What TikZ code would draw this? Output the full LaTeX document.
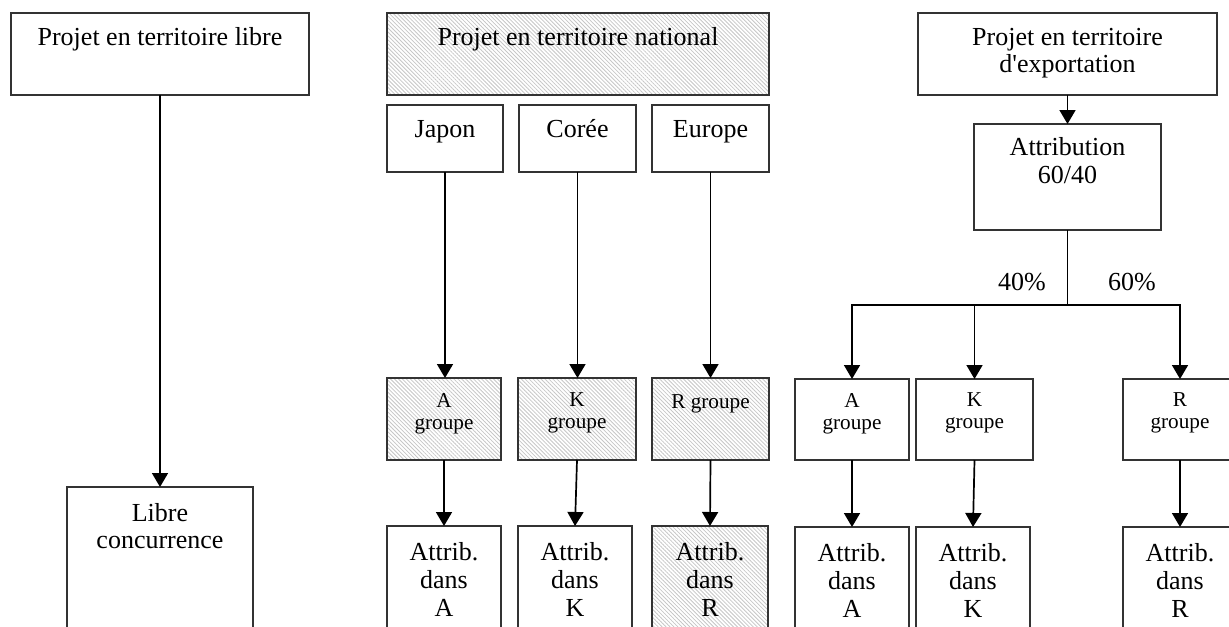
\documentclass[tikz,border=0pt]{standalone}
\usepackage{fontspec}
\setmainfont{Liberation Serif}
\usetikzlibrary{arrows.meta,patterns.meta}
\tikzset{
  bx/.style={draw=black!80, line width=1pt, inner sep=0pt, outer sep=0pt, anchor=north west},
  hatch/.style={pattern={Lines[angle=-45,distance=1.4pt,line width=0.4pt]}, pattern color=black!22},
  tx/.style={anchor=north, inner sep=0pt, align=center, font=\fontsize{13}{13.5}\selectfont, execute at begin node=\strut},
  txb/.style={anchor=north, inner sep=0pt, align=center, font=\fontsize{13}{14}\selectfont, execute at begin node=\strut},
  txs/.style={anchor=north, inner sep=0pt, align=center, font=\fontsize{10.6}{11}\selectfont, execute at begin node=\strut},
  arr/.style={draw=black, line width=0.85pt, -{Triangle[width=8pt,length=7pt]}},
  ln/.style={draw=black, line width=0.85pt}
}
\begin{document}
\begin{tikzpicture}[x=0.5pt,y=-0.5pt]
\clip (0,0) rectangle (1229,626);
\fill[white] (0,0) rectangle (1229,626);
% top row
\node[bx, minimum width=149pt, minimum height=41pt] (b1) at (11,13) {};
\node[bx, hatch, minimum width=191pt, minimum height=41pt] (bnat) at (387,13) {};
\node[bx, minimum width=149.5pt, minimum height=41pt] (bexp) at (918,13) {};
\node[tx] (t1) at (160,26.1) {Projet en territoire libre};
\node[tx] (tnat) at (578,26.1) {Projet en territoire national};
\node[tx] (texp) at (1067.5,28.1) {Projet en territoire\\d\textquotesingle exportation};
% countries
\node[bx, minimum width=58pt, minimum height=33.5pt] (bjap) at (387,105) {};
\node[bx, minimum width=58.5pt, minimum height=33.5pt] (bcor) at (519,105) {};
\node[bx, minimum width=58.5pt, minimum height=33.5pt] (beur) at (652,105) {};
\node[tx] (tjap) at (445,117.8) {Japon};
\node[tx] (tcor) at (577.5,117.8) {Corée};
\node[tx] (teur) at (710.5,117.8) {Europe};
% attribution
\node[bx, minimum width=93.5pt, minimum height=53pt] (batt) at (974,124) {};
\node[txb] (tatt) at (1067.5,137.4) {Attribution\\60/40};
% libre concurrence
\node[bx, minimum width=93pt, minimum height=80pt] (blc) at (67,487) {};
\node[tx] (tlc) at (160,503.1) {Libre\\concurrence};
% middle groups
\node[bx, hatch, minimum width=57pt, minimum height=41pt] (gA) at (387,378) {};
\node[bx, hatch, minimum width=59pt, minimum height=41pt] (gK) at (518,378) {};
\node[bx, hatch, minimum width=58.5pt, minimum height=41pt] (gR) at (652,378) {};
\node[txs] (tgA) at (444,392.6) {A\\groupe};
\node[txs] (tgK) at (577,392.6) {K\\groupe};
\node[txs] (tgR) at (710.5,392.6) {R groupe};
% middle attrib
\node[bx, minimum width=57pt, minimum height=60pt] (aA) at (387,526) {};
\node[bx, minimum width=57pt, minimum height=60pt] (aK) at (518,526) {};
\node[bx, hatch, minimum width=58pt, minimum height=60pt] (aR) at (652,526) {};
\node[txb] (taA) at (444,542.4) {Attrib.\\dans\\A};
\node[txb] (taK) at (575,542.4) {Attrib.\\dans\\K};
\node[txb] (taR) at (710,542.4) {Attrib.\\dans\\R};
% right groups
\node[bx, minimum width=57pt, minimum height=40.5pt] (rA) at (795,379) {};
\node[bx, minimum width=58.5pt, minimum height=40.5pt] (rK) at (916,379) {};
\node[bx, minimum width=57pt, minimum height=40.5pt] (rR) at (1123,379) {};
\node[txs] (trA) at (852,392.6) {A\\groupe};
\node[txs] (trK) at (974.5,392.6) {K\\groupe};
\node[txs] (trR) at (1180,392.6) {R\\groupe};
% right attrib
\node[bx, minimum width=57pt, minimum height=60pt] (xA) at (795,527) {};
\node[bx, minimum width=57pt, minimum height=60pt] (xK) at (916,527) {};
\node[bx, minimum width=57pt, minimum height=60pt] (xR) at (1123,527) {};
\node[txb] (txA) at (852,543.4) {Attrib.\\dans\\A};
\node[txb] (txK) at (973,543.4) {Attrib.\\dans\\K};
\node[txb] (txR) at (1180,543.4) {Attrib.\\dans\\R};
% percentages
\node[tx] (p40) at (1022,271.1) {40\%};
\node[tx] (p60) at (1132,271.1) {60\%};
% connectors
\draw[arr] (b1.south) -- (b1.south |- blc.north);
\draw[arr] (bjap.south) -- (bjap.south |- gA.north);
\draw[arr] (bcor.south) -- (bcor.south |- gK.north);
\draw[arr] (beur.south) -- (beur.south |- gR.north);
\draw[arr] (gA.south) -- (aA.north);
\draw[arr] (gK.south) -- (aK.north);
\draw[arr] (gR.south) -- (aR.north);
\draw[arr] (bexp.south) -- (bexp.south |- batt.north);
\draw[ln] (batt.south) -- ++(0,75) coordinate (split);
\draw[arr] (split) -| (rA.north);
\draw[arr] (split) -| (rR.north);
\draw[arr] (split -| rK.north) -- (rK.north);
\draw[arr] (rA.south) -- (xA.north);
\draw[arr] (rK.south) -- (xK.north);
\draw[arr] (rR.south) -- (xR.north);
\end{tikzpicture}
\end{document}
